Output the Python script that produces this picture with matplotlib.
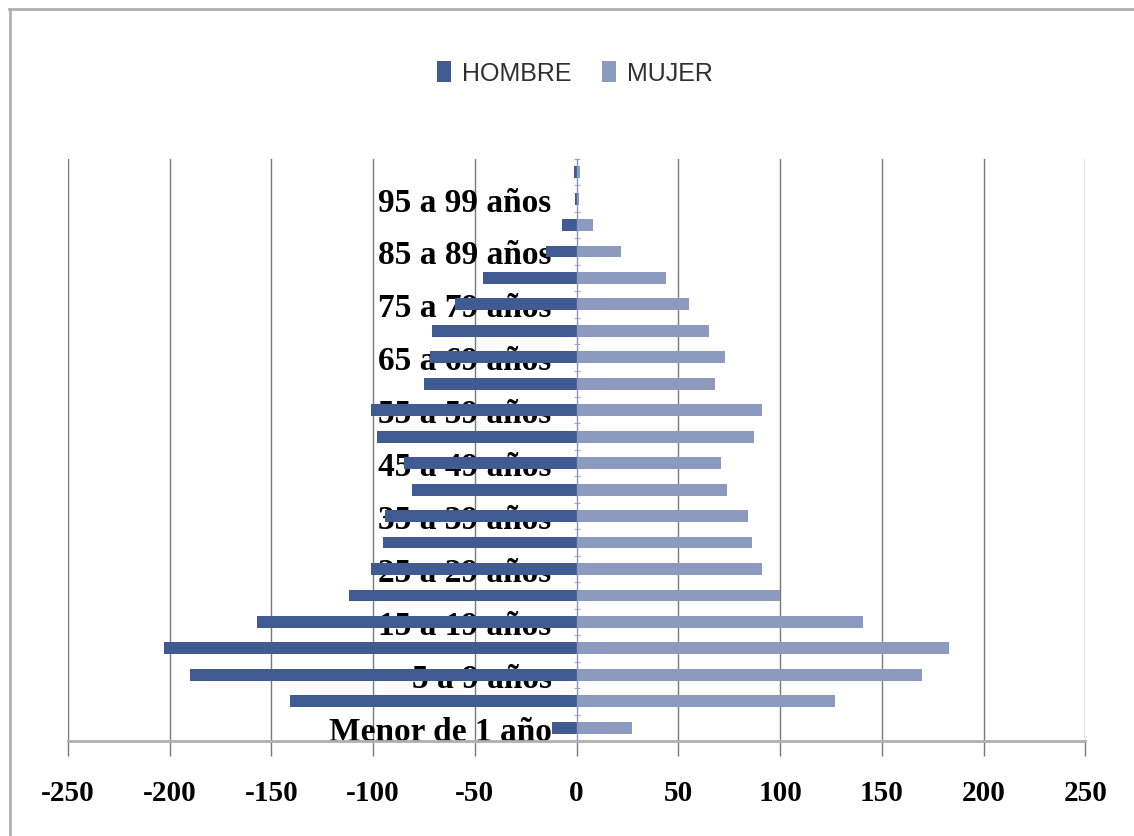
import matplotlib.pyplot as plt
from matplotlib.lines import Line2D
import numpy as np

grupos = ['Menor de 1 año', '1 a 4 años', '5 a 9 años', '10 a 14 años',
          '15 a 19 años', '20 a 24 años', '25 a 29 años', '30 a 34 años',
          '35 a 39 años', '40 a 44 años', '45 a 49 años', '50 a 54 años',
          '55 a 59 años', '60 a 64 años', '65 a 69 años', '70 a 74 años',
          '75 a 79 años', '80 a 84 años', '85 a 89 años', '90 a 94 años',
          '95 a 99 años', '100 y más años']
hombre = [-12, -141, -190, -203, -157, -112, -101, -95, -94, -81, -85,
          -98, -101, -75, -72, -71, -60, -46, -15, -7, -1, -1.5]
mujer = [27, 127, 170, 183, 141, 100, 91, 86, 84, 74, 71,
         87, 91, 68, 73, 65, 55, 44, 22, 8, 1, 1.5]
xticks = [-250, -200, -150, -100, -50, 0, 50, 100, 150, 200, 250]

c_h = '#3f5b92'
c_m = '#8d9ac0'

fig = plt.figure(figsize=(11.34, 8.37), dpi=100)
ax = fig.add_axes([0.060, 0.1135, 0.897, 0.6955])

y = np.arange(len(grupos))
ax.barh(y, hombre, height=0.45, color=c_h, label='HOMBRE', zorder=2)
ax.barh(y, mujer, height=0.45, color=c_m, label='MUJER', zorder=2)

ax.set_xlim(-250, 250)
ax.set_ylim(-0.5, len(grupos) - 0.5)

# vertical grid
for xv in xticks:
    if xv != 0:
        ax.axvline(xv, color='#7a7a7a', lw=1.0, zorder=0)

for s in ['top', 'right']:
    ax.spines[s].set_visible(False)
ax.spines['left'].set_position(('data', 0))
ax.spines['left'].set_color('#8a96b4')
ax.spines['left'].set_linewidth(1.0)
ax.spines['bottom'].set_color('#b0b0b0')
ax.spines['bottom'].set_linewidth(2.0)

ax.set_xticks(xticks)
ax.set_xticklabels([str(v) for v in xticks], family='Liberation Serif',
                   weight='bold', fontsize=21)
ax.tick_params(axis='x', length=11, width=1.0, color='#7a7a7a', pad=16)

ax.set_yticks(y)
ax.set_yticklabels([g if i % 2 == 0 else '' for i, g in enumerate(grupos)],
                   family='Liberation Serif', weight='bold', fontsize=24)
ax.tick_params(axis='y', which='major', length=0, pad=18)
ax.set_yticks(np.arange(-0.5, len(grupos), 1), minor=True)
ax.tick_params(axis='y', which='minor', length=5, direction='inout',
               color='#b0b0b0', width=0.8)

leg = fig.legend(loc='center', bbox_to_anchor=(0.507, 0.911), ncol=2,
                 frameon=False, handlelength=0.55, handleheight=0.9,
                 handletextpad=0.45, columnspacing=1.2,
                 prop={'family': 'Liberation Sans', 'size': 18})
for t in leg.get_texts():
    t.set_color('#303030')

# outer frame (top and left edges)
fig.add_artist(Line2D([0.008, 1.0], [0.988, 0.988], color='#b0b0b0', lw=2,
                      transform=fig.transFigure))
fig.add_artist(Line2D([0.009, 0.009], [0.0, 0.988], color='#b0b0b0', lw=2,
                      transform=fig.transFigure))

fig.savefig('out.png', dpi=100)
